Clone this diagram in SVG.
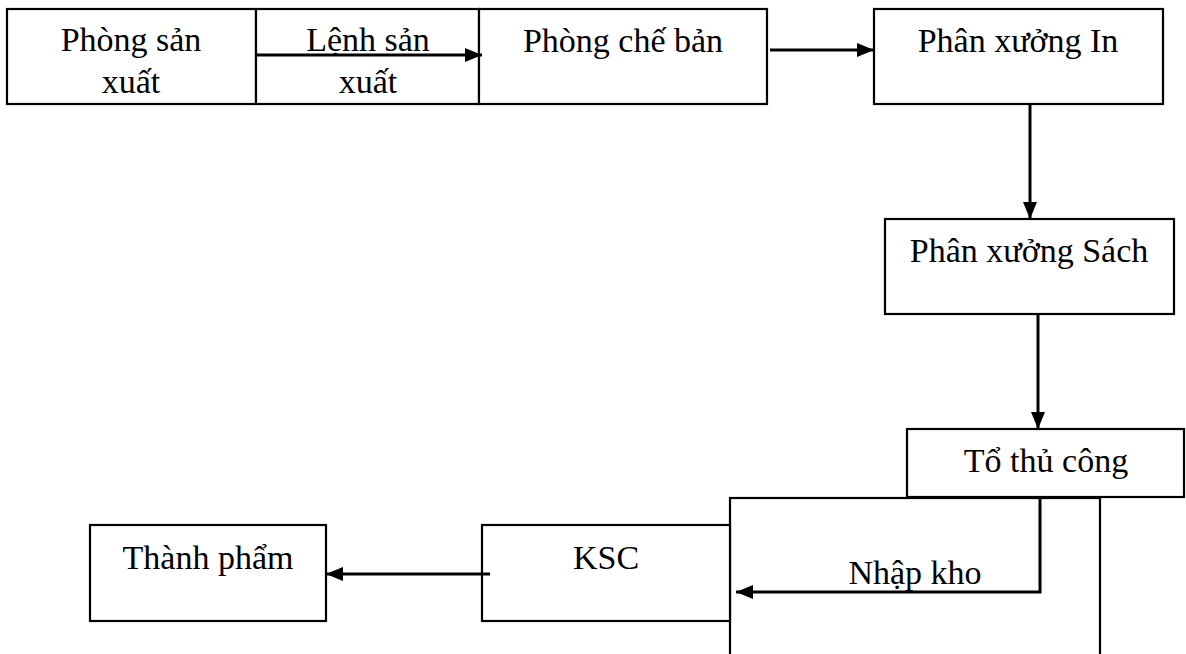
<svg xmlns="http://www.w3.org/2000/svg" width="1186" height="654" viewBox="0 0 1186 654">
  <style>
    .box { fill: #ffffff; stroke: #000000; stroke-width: 2.2; }
    .lbl { font-family: "Liberation Serif", "Times New Roman", serif; font-size: 34px; fill: #000000; text-anchor: middle; }
    .conn { fill: none; stroke: #000000; stroke-width: 3; }
  </style>
  <defs>
    <marker id="arrow" viewBox="0 0 17 14" refX="17" refY="7" markerWidth="17" markerHeight="14" markerUnits="userSpaceOnUse" orient="auto">
      <path d="M0,0 L17,7 L0,14 Z" fill="#000000"/>
    </marker>
  </defs>

  <rect width="1186" height="654" fill="#ffffff"/>

  <g id="phong-san-xuat">
    <rect class="box" x="7" y="9" width="249" height="95"/>
    <text class="lbl" x="131" y="51">Phòng sản</text>
    <text class="lbl" x="131" y="93">xuất</text>
  </g>

  <g id="lenh-san-xuat">
    <rect class="box" x="256" y="9" width="223" height="95"/>
    <text class="lbl" x="368" y="51">Lệnh sản</text>
    <text class="lbl" x="368" y="93">xuất</text>
  </g>

  <g id="phong-che-ban">
    <rect class="box" x="479" y="9" width="288" height="95"/>
    <text class="lbl" x="623" y="52">Phòng chế bản</text>
  </g>

  <g id="phan-xuong-in">
    <rect class="box" x="874" y="9" width="289" height="95"/>
    <text class="lbl" x="1018" y="52">Phân xưởng In</text>
  </g>

  <g id="phan-xuong-sach">
    <rect class="box" x="885" y="219" width="289" height="95"/>
    <text class="lbl" x="1029" y="262">Phân xưởng Sách</text>
  </g>

  <g id="to-thu-cong">
    <rect class="box" x="907" y="429" width="277" height="68"/>
    <text class="lbl" x="1046" y="472">Tổ thủ công</text>
  </g>

  <g id="nhap-kho">
    <rect class="box" x="730" y="498" width="370" height="220"/>
    <text class="lbl" x="915" y="584">Nhập kho</text>
  </g>

  <g id="ksc">
    <rect class="box" x="482" y="525" width="248" height="96"/>
    <text class="lbl" x="606" y="569">KSC</text>
  </g>

  <g id="thanh-pham">
    <rect class="box" x="90" y="525" width="236" height="96"/>
    <text class="lbl" x="208" y="569">Thành phẩm</text>
  </g>

  <g id="connectors">
    <line class="conn" x1="256" y1="55" x2="482" y2="55" marker-end="url(#arrow)"/>
    <line class="conn" x1="770" y1="50" x2="874" y2="50" marker-end="url(#arrow)"/>
    <line class="conn" x1="1030" y1="104" x2="1030" y2="219" marker-end="url(#arrow)"/>
    <line class="conn" x1="1038" y1="314" x2="1038" y2="429" marker-end="url(#arrow)"/>
    <polyline class="conn" points="1040,497 1040,592 736,592" marker-end="url(#arrow)"/>
    <line class="conn" x1="490" y1="574" x2="326" y2="574" marker-end="url(#arrow)"/>
  </g>
</svg>
